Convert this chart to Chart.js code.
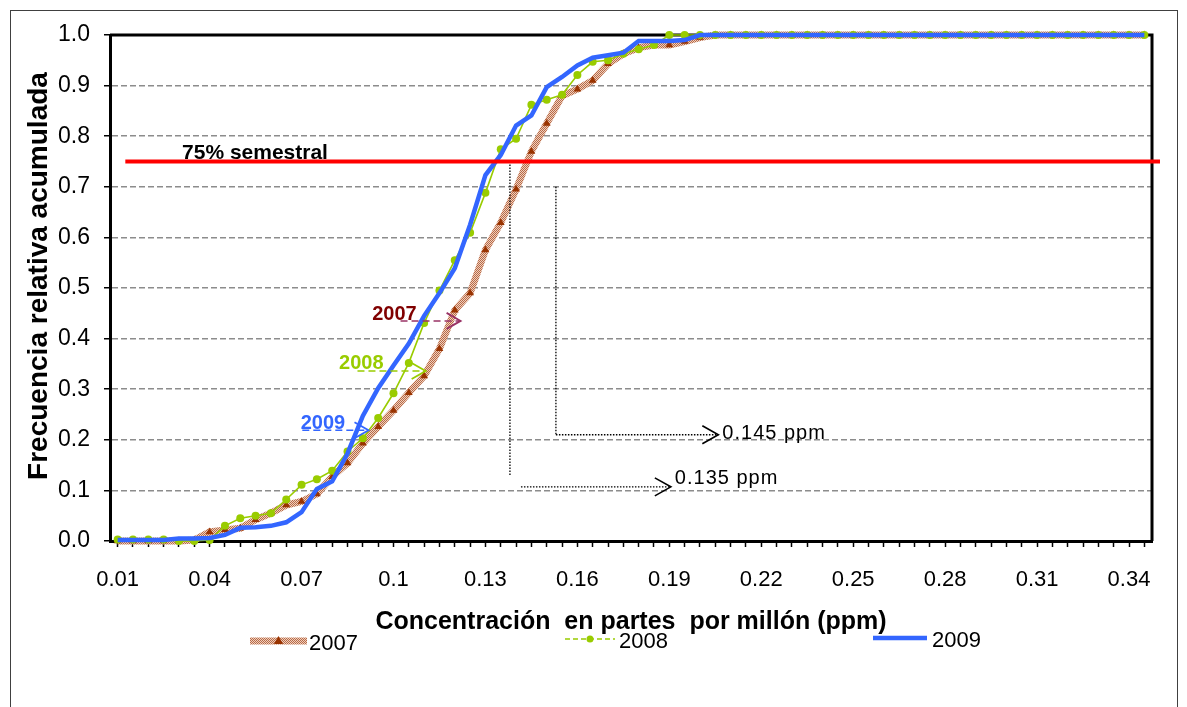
<!DOCTYPE html>
<html>
<head>
<meta charset="utf-8">
<script src="https://cdn.jsdelivr.net/npm/chart.js@4.4.0/dist/chart.umd.min.js"></script>
<style>
  html, body { margin: 0; padding: 0; background: #fff; }
  #wrap { width: 1187px; height: 707px; }
</style>
</head>
<body>
<div id="wrap"><canvas id="chart" width="1187" height="707"></canvas></div>
<script>
// concentraciones (ppm), paso de 0.005
const ppm = [0.01, 0.015, 0.02, 0.025, 0.03, 0.035, 0.04, 0.045, 0.05, 0.055, 0.06, 0.065, 0.07, 0.075,
  0.08, 0.085, 0.09, 0.095, 0.1, 0.105, 0.11, 0.115, 0.12, 0.125, 0.13, 0.135, 0.14, 0.145, 0.15, 0.155,
  0.16, 0.165, 0.17, 0.175, 0.18, 0.185, 0.19, 0.195, 0.2, 0.205, 0.21, 0.215, 0.22, 0.225, 0.23, 0.235,
  0.24, 0.245, 0.25, 0.255, 0.26, 0.265, 0.27, 0.275, 0.28, 0.285, 0.29, 0.295, 0.3, 0.305, 0.31, 0.315,
  0.32, 0.325, 0.33, 0.335, 0.34, 0.345];
const tickLabels = ["0.01", "0.04", "0.07", "0.1", "0.13", "0.16", "0.19", "0.22", "0.25", "0.28", "0.31", "0.34"];

const freq2007 = [0, 0, 0, 0, 0, 0.002, 0.018, 0.022, 0.025, 0.042, 0.055, 0.071, 0.078, 0.093, 0.127, 0.154,
  0.193, 0.226, 0.258, 0.293, 0.326, 0.38, 0.456, 0.49, 0.575, 0.629, 0.695, 0.77, 0.825, 0.88, 0.893, 0.91,
  0.943, 0.963, 0.975, 0.98, 0.98, 0.987, 0.995,
  1, 1, 1, 1, 1, 1, 1, 1, 1, 1, 1, 1, 1, 1, 1, 1, 1, 1, 1, 1, 1, 1, 1, 1, 1, 1, 1, 1, 1];
const freq2008 = [0.003, 0.003, 0.003, 0.003, 0, 0, 0.002, 0.03, 0.045, 0.05, 0.055, 0.082, 0.111, 0.122, 0.139,
  0.177, 0.203, 0.243, 0.292, 0.352, 0.431, 0.495, 0.555, 0.609, 0.688, 0.774, 0.795, 0.862, 0.872, 0.882,
  0.921, 0.947, 0.95, 0.963, 0.972, 0.98,
  1, 1, 1, 1, 1, 1, 1, 1, 1, 1, 1, 1, 1, 1, 1, 1, 1, 1, 1, 1, 1, 1, 1, 1, 1, 1, 1, 1, 1, 1, 1, 1];
const freq2009 = [0.002, 0.002, 0.002, 0.002, 0.005, 0.005, 0.006, 0.012, 0.026, 0.027, 0.03, 0.037, 0.057, 0.103,
  0.118, 0.173, 0.247, 0.302, 0.347, 0.39, 0.445, 0.49, 0.539, 0.625, 0.723, 0.763, 0.821, 0.841, 0.897, 0.917,
  0.94, 0.955, 0.96, 0.965, 0.988, 0.988, 0.988, 0.99,
  1, 1, 1, 1, 1, 1, 1, 1, 1, 1, 1, 1, 1, 1, 1, 1, 1, 1, 1, 1, 1, 1, 1, 1, 1, 1, 1, 1, 1, 1];

const limite = 0.75;   // 75% semestral
// marcas de lectura: [indice x, valor y]
const marca135 = { x: 25.6, top: 0.75, bottom: 0.13, y: 0.107, tip: 36.1, label: "0.135 ppm", labelY: 0.123 };
const marca145 = { x: 28.6, top: 0.70, bottom: 0.21, y: 0.21, tip: 39.2, label: "0.145 ppm", labelY: 0.213 };
const etiquetas = [
  { text: "2007", color: "#800000", arrow: "#993366", tx: 18.06, ty: 0.447, x0: 18.46, x1: 22.38, y: 0.435 },
  { text: "2008", color: "#99cc00", arrow: "#99cc00", tx: 15.9, ty: 0.35, x0: 15.65, x1: 20.1, y: 0.336 },
  { text: "2009", color: "#3366ff", arrow: "#3366ff", tx: 13.4, ty: 0.233, x0: 12.05, x1: 16.37, y: 0.219 }
];

const FONT = "'Liberation Sans', Arial, sans-serif";

function hatch() {
  const c = document.createElement('canvas');
  c.width = 4; c.height = 4;
  const g = c.getContext('2d');
  g.fillStyle = '#efd0bd';
  g.fillRect(0, 0, 4, 4);
  g.fillStyle = '#b86a48';
  for (let x = 0; x < 4; x++) for (let y = 0; y < 4; y++) if ((x + y) % 2 === 0) g.fillRect(x, y, 1, 1);
  return g.createPattern(c, 'repeat');
}
const pattern2007 = hatch();

function chevron(ctx, x, y, color, w, h, lw) {
  ctx.save();
  ctx.setLineDash([]);
  ctx.strokeStyle = color;
  ctx.lineWidth = lw;
  ctx.beginPath();
  ctx.moveTo(x - w, y - h);
  ctx.lineTo(x, y);
  ctx.lineTo(x - w, y + h);
  ctx.stroke();
  ctx.restore();
}

const decor = {
  id: 'decor',
  beforeDraw(chart) {
    const ctx = chart.ctx;
    ctx.save();
    ctx.fillStyle = '#fff';
    ctx.fillRect(0, 0, chart.width, chart.height);
    ctx.strokeStyle = '#404040';
    ctx.lineWidth = 1;
    ctx.strokeRect(10.5, 10.5, 1167, 720);
    ctx.restore();
  },
  beforeDatasetsDraw(chart) {
    const { ctx, chartArea: a } = chart;
    ctx.save();
    ctx.strokeStyle = '#000';
    ctx.lineWidth = 3;
    ctx.beginPath();
    ctx.moveTo(a.left, a.top);
    ctx.lineTo(a.right, a.top);
    ctx.lineTo(a.right, a.bottom);
    ctx.stroke();
    ctx.restore();
  },
  afterDatasetsDraw(chart) {
    const { ctx, chartArea: a } = chart;
    const xs = chart.scales.x, ys = chart.scales.y;
    ctx.save();

    // dotted reading lines
    ctx.strokeStyle = '#000';
    ctx.lineWidth = 1.3;
    ctx.setLineDash([1.5, 1.5]);
    [marca135, marca145].forEach(m => {
      const x = xs.getPixelForValue(m.x);
      ctx.beginPath();
      ctx.moveTo(x, ys.getPixelForValue(m.top));
      ctx.lineTo(x, ys.getPixelForValue(m.bottom));
      ctx.stroke();
    });
    [marca135, marca145].forEach((m, i) => {
      const y = ys.getPixelForValue(m.y);
      const x0 = i === 0 ? xs.getPixelForValue(m.x) + 11 : xs.getPixelForValue(m.x);
      const x1 = xs.getPixelForValue(m.tip);
      ctx.setLineDash([1.5, 1.5]);
      ctx.beginPath();
      ctx.moveTo(x0, y);
      ctx.lineTo(x1, y);
      ctx.stroke();
      chevron(ctx, x1, y, '#000', 16, 9, 1.6);
      ctx.fillStyle = '#000';
      ctx.font = '20px ' + FONT;
      ctx.letterSpacing = '1px';
      ctx.textBaseline = 'middle';
      ctx.textAlign = 'left';
      ctx.fillText(m.label, x1 + 4, ys.getPixelForValue(m.labelY));
      ctx.letterSpacing = '0px';
    });

    // red 75% line
    const y75 = ys.getPixelForValue(limite);
    ctx.setLineDash([]);
    ctx.strokeStyle = '#ff0000';
    ctx.lineWidth = 4;
    ctx.beginPath();
    ctx.moveTo(xs.getPixelForValue(0.5), y75);
    ctx.lineTo(a.right + 8, y75);
    ctx.stroke();
    ctx.fillStyle = '#000';
    ctx.font = 'bold 21px ' + FONT;
    ctx.textBaseline = 'alphabetic';
    ctx.textAlign = 'left';
    ctx.fillText('75% semestral', xs.getPixelForValue(4.2), y75 - 3);

    // series labels with arrows
    etiquetas.forEach(e => {
      const y = ys.getPixelForValue(e.y);
      const x0 = xs.getPixelForValue(e.x0), x1 = xs.getPixelForValue(e.x1);
      ctx.strokeStyle = e.arrow;
      ctx.lineWidth = 1.5;
      ctx.setLineDash([7, 4]);
      ctx.beginPath();
      ctx.moveTo(x0, y);
      ctx.lineTo(x1, y);
      ctx.stroke();
      chevron(ctx, x1, y, e.arrow, 14, 8, 1.8);
      ctx.fillStyle = e.color;
      ctx.font = 'bold 20px ' + FONT;
      ctx.textBaseline = 'middle';
      ctx.textAlign = 'center';
      ctx.fillText(e.text, xs.getPixelForValue(e.tx), ys.getPixelForValue(e.ty));
    });
    ctx.restore();
  },
  afterDraw(chart) {
    const ctx = chart.ctx;
    const a = chart.chartArea;
    ctx.save();
    // y axis title
    ctx.translate(39, (a.top + a.bottom) / 2 - 12);
    ctx.rotate(-Math.PI / 2);
    ctx.fillStyle = '#000';
    ctx.font = 'bold 28px ' + FONT;
    ctx.textAlign = 'center';
    ctx.textBaseline = 'middle';
    ctx.fillText('Frecuencia relativa acumulada', 0, 0);
    ctx.restore();

    // legend
    ctx.save();
    const ds = chart.data.datasets;
    const items = [
      { d: ds[0], x0: 250, x1: 307, y: 641, tx: 309 },
      { d: ds[1], x0: 565, x1: 615, y: 639, tx: 619 },
      { d: ds[2], x0: 873, x1: 927, y: 638, tx: 932 }
    ];
    items.forEach((it, i) => {
      ctx.strokeStyle = it.d.borderColor;
      ctx.lineWidth = it.d.borderWidth;
      ctx.setLineDash(i === 1 ? [5, 3] : []);
      ctx.beginPath();
      ctx.moveTo(it.x0, it.y);
      ctx.lineTo(it.x1, it.y);
      ctx.stroke();
      ctx.setLineDash([]);
      const mx = (it.x0 + it.x1) / 2;
      if (i === 0) {
        const r = 5;
        ctx.fillStyle = it.d.pointBackgroundColor;
        ctx.beginPath();
        ctx.moveTo(mx, it.y - r);
        ctx.lineTo(mx - r * 0.9, it.y + r * 0.6);
        ctx.lineTo(mx + r * 0.9, it.y + r * 0.6);
        ctx.closePath();
        ctx.fill();
      } else if (i === 1) {
        ctx.fillStyle = it.d.pointBackgroundColor;
        ctx.beginPath();
        ctx.arc(mx, it.y, 3.5, 0, Math.PI * 2);
        ctx.fill();
      }
      ctx.fillStyle = '#000';
      ctx.font = '22px ' + FONT;
      ctx.textAlign = 'left';
      ctx.textBaseline = 'middle';
      ctx.fillText(it.d.label, it.tx, it.y + 3);
    });
    ctx.restore();
  }
};

new Chart(document.getElementById('chart'), {
  type: 'line',
  data: {
    labels: ppm.map(String),
    datasets: [
      {
        label: '2007',
        data: freq2007,
        borderColor: pattern2007,
        borderWidth: 7,
        pointStyle: 'triangle',
        pointRadius: 4.5,
        pointBackgroundColor: '#993300',
        pointBorderColor: '#993300',
        pointBorderWidth: 0,
        order: 2,
        clip: 8
      },
      {
        label: '2008',
        data: freq2008,
        borderColor: '#99cc00',
        borderWidth: 1.6,
        pointStyle: 'circle',
        pointRadius: 4,
        pointBackgroundColor: '#99cc00',
        pointBorderColor: '#99cc00',
        pointBorderWidth: 0,
        order: 1,
        clip: 8
      },
      {
        label: '2009',
        data: freq2009,
        borderColor: '#3366ff',
        borderWidth: 4.5,
        pointRadius: 0,
        order: 0,
        clip: 8
      }
    ]
  },
  options: {
    responsive: false,
    animation: false,
    devicePixelRatio: 1,
    layout: { padding: { left: 12, top: 35, right: 35, bottom: 70 } },
    plugins: { legend: { display: false }, tooltip: { enabled: false } },
    scales: {
      x: {
        type: 'category',
        offset: true,
        afterFit: s => { s.height = 96; },
        grid: { drawOnChartArea: false, drawTicks: true, tickLength: 6, tickColor: '#000', tickWidth: 1.5 },
        border: { color: '#000', width: 3 },
        ticks: {
          autoSkip: false,
          maxRotation: 0,
          minRotation: 0,
          padding: 20,
          color: '#000',
          font: { family: FONT, size: 22 },
          callback: function (v) {
            const l = this.getLabelForValue(v);
            return tickLabels.includes(l) ? l : '';
          }
        },
        title: {
          display: true,
          text: 'Concentración  en partes  por millón (ppm)',
          color: '#000',
          font: { family: FONT, size: 25, weight: 'bold' },
          padding: { top: 2, bottom: 0 }
        }
      },
      y: {
        min: 0,
        max: 1,
        afterFit: s => { s.width = 98; },
        grid: {
          color: c => (c.tick && (c.tick.value === 0 || c.tick.value === 1)) ? 'rgba(0,0,0,0)' : '#8c8c8c',
          lineWidth: 1.5,
          tickLength: 6,
          tickColor: '#000',
          tickWidth: 1.5
        },
        border: { color: '#000', width: 3, dash: [6, 3] },
        ticks: {
          stepSize: 0.1,
          padding: 14,
          color: '#000',
          font: { family: FONT, size: 23 },
          callback: v => v.toFixed(1)
        }
      }
    }
  },
  plugins: [decor]
});
</script>
</body>
</html>
